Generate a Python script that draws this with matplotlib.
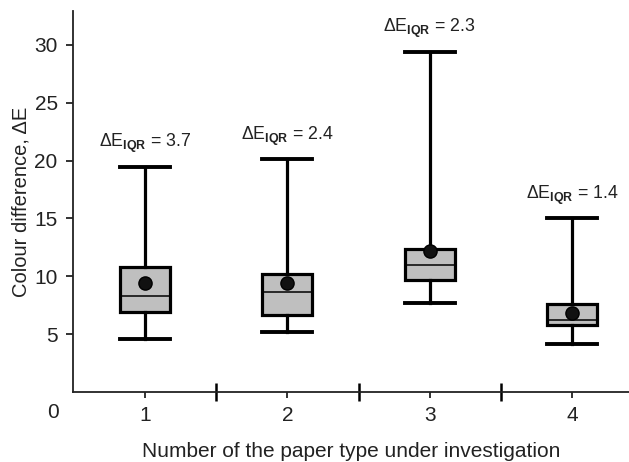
import matplotlib
matplotlib.use('Agg')
import matplotlib.pyplot as plt

plt.rcParams['font.family'] = ['Liberation Sans', 'DejaVu Sans']
plt.rcParams['mathtext.fontset'] = 'custom'
plt.rcParams['mathtext.rm'] = 'Liberation Sans'
plt.rcParams['mathtext.it'] = 'Liberation Sans'
plt.rcParams['mathtext.bf'] = 'Liberation Sans:bold'

# summary stats
papers = [1, 2, 3, 4]
whislo = [4.6, 5.2, 7.7, 4.15]
q1 = [6.95, 6.7, 9.7, 5.8]
med = [8.3, 8.65, 10.95, 6.2]
q3 = [10.85, 10.2, 12.4, 7.65]
whishi = [19.45, 20.1, 29.4, 15.0]
means = [9.45, 9.45, 12.2, 6.8]
iqr_labels = ['3.7', '2.4', '2.3', '1.4']

stats = []
for i in range(len(papers)):
    stats.append(dict(whislo=whislo[i], q1=q1[i], med=med[i], q3=q3[i],
                      whishi=whishi[i], mean=means[i], fliers=[]))

txt = '#222222'
fig = plt.figure(figsize=(6.29, 4.62), dpi=100)
ax = fig.add_axes([73/629, 69.7/462, 556/629, 381.3/462])

ax.bxp(stats, positions=papers, widths=0.35, capwidths=0.35, showmeans=True,
       patch_artist=True,
       boxprops=dict(facecolor='#bfbfbf', edgecolor='black', linewidth=2.3),
       whiskerprops=dict(color='black', linewidth=2.3),
       capprops=dict(color='black', linewidth=2.8),
       medianprops=dict(color='black', linewidth=1.1),
       meanprops=dict(marker='o', markerfacecolor='#111111', markeredgecolor='black',
                      markersize=9.5))

for i in range(len(papers)):
    ax.text(papers[i], whishi[i] + 1.0,
            r'$\Delta\mathrm{E}_{\mathbf{IQR}}$' + ' = ' + iqr_labels[i],
            ha='center', va='bottom', fontsize=12.8, color=txt)

ax.set_xlim(0.494, 4.40)
ax.set_ylim(0, 32.9)
ax.set_xticks(papers)
ax.set_xticks([1.5, 2.5, 3.5], minor=True)
ax.set_yticks([5, 10, 15, 20, 25, 30])
ax.tick_params(axis='x', which='major', length=4, width=1.3, direction='out',
               pad=6, labelsize=15, colors=txt)
ax.tick_params(axis='x', which='minor', length=13, width=1.8, direction='inout')
ax.tick_params(axis='y', length=5, width=1.3, direction='out', pad=6,
               labelsize=15, colors=txt)

for s in ['top', 'right']:
    ax.spines[s].set_visible(False)
for s in ['left', 'bottom']:
    ax.spines[s].set_linewidth(1.3)
    ax.spines[s].set_color(txt)

fig.text(59/629, 1 - 413/462, '0', ha='right', va='center', fontsize=15, color=txt)
ax.set_ylabel('Colour difference, ΔE', fontsize=14.5, color=txt, labelpad=3)
ax.set_xlabel('Number of the paper type under investigation', fontsize=15,
              color=txt, labelpad=12)

fig.savefig('out.png', dpi=100)
